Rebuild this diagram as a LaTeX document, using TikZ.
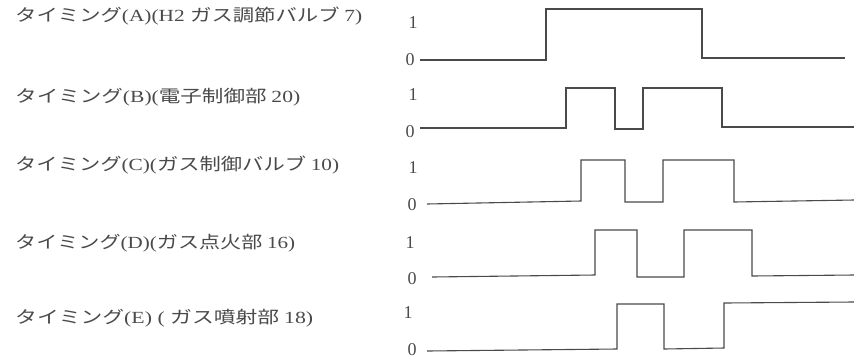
\documentclass[tikz,border=0pt]{standalone}
\usepackage{fontspec}
\setmainfont{Liberation Serif}
\newfontfamily\cjk{Noto Sans CJK JP}
\usepackage{graphicx}
\definecolor{ink}{HTML}{4A4A4A}
\tikzset{
  lbl/.style={anchor=west, inner sep=0pt, text=ink, font=\fontsize{17}{19}\selectfont},
  lvl/.style={inner sep=0pt, text=ink, font=\fontsize{18}{20}\selectfont},
  wave/.style={draw=ink, line width=1.1pt, line join=miter}
}
\begin{document}
\begin{tikzpicture}[x=1pt,y=-1pt]
\useasboundingbox (0,0) rectangle (854,360);
% labels
\node[lbl] (la) at (15,16) {\resizebox{347pt}{\height}{\cjk タイミング\rmfamily(A)(H2 \cjk ガス調節バルブ \rmfamily 7)}};
\node[lbl] (lb) at (15,97) {\resizebox{285pt}{\height}{\cjk タイミング\rmfamily(B)(\cjk 電子制御部 \rmfamily 20)}};
\node[lbl] (lc) at (15,165) {\resizebox{324pt}{\height}{\cjk タイミング\rmfamily(C)(\cjk ガス制御バルブ \rmfamily 10)}};
\node[lbl] (ld) at (15,243) {\resizebox{280pt}{\height}{\cjk タイミング\rmfamily(D)(\cjk ガス点火部 \rmfamily 16)}};
\node[lbl] (le) at (15,318) {\resizebox{298pt}{\height}{\cjk タイミング\rmfamily(E) ( \cjk ガス噴射部 \rmfamily 18)}};
% level marks
\node[lvl] (a1) at (413,23) {1};
\node[lvl] (a0) at (410,60) {0};
\node[lvl] (b1) at (413,95) {1};
\node[lvl] (b0) at (410,132) {0};
\node[lvl] (c1) at (413,168) {1};
\node[lvl] (c0) at (412,205) {0};
\node[lvl] (d1) at (410,243) {1};
\node[lvl] (d0) at (412,279) {0};
\node[lvl] (e1) at (408,313) {1};
\node[lvl] (e0) at (412,350) {0};
% waveforms
\draw[wave] (420,60) -- (546,60) -- (546,9) -- (702,9) -- (702,58) -- (845,58);
\draw[wave] (420,128) -- (566,128) -- (566,88) -- (615,88) -- (615,129) -- (643,129) -- (643,88) -- (722,88) -- (722,127) -- (854,127);
\draw[wave] (427,204) -- (581,201) -- (581,160) -- (625,160) -- (625,202) -- (663,202) -- (663,160) -- (734,160) -- (734,202) -- (854,200);
\draw[wave] (432,277) -- (595,275) -- (595,230) -- (637,230) -- (637,277) -- (684,277) -- (684,230) -- (752,230) -- (752,276) -- (854,275);
\draw[wave] (427,351) -- (617,349) -- (617,304) -- (664,304) -- (664,349) -- (724,348) -- (724,303) -- (854,302);
\end{tikzpicture}
\end{document}
